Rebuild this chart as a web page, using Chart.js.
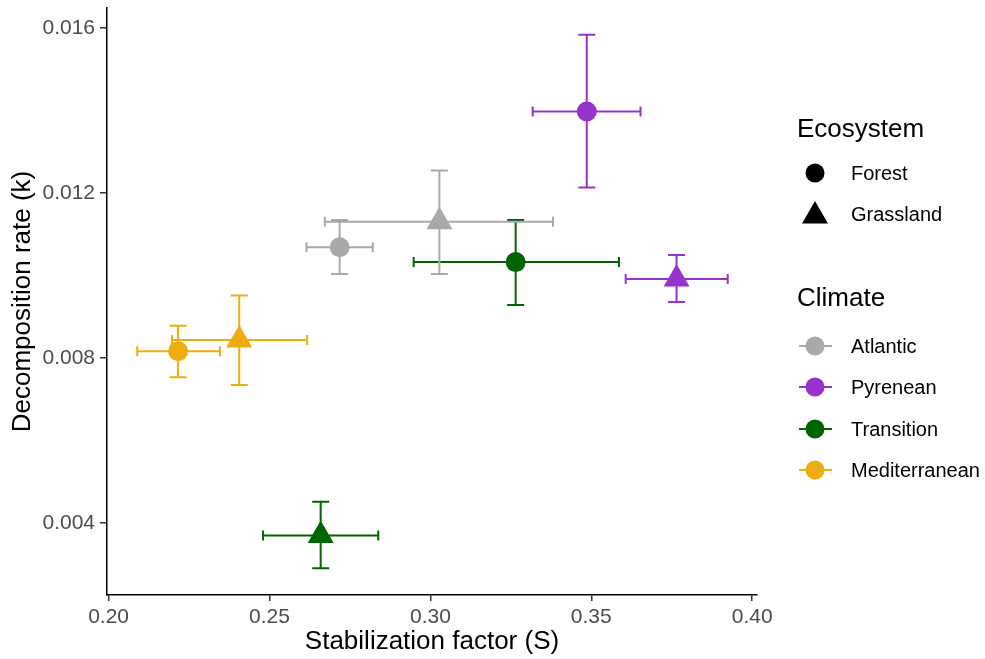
<!DOCTYPE html>
<html>
<head>
<meta charset="utf-8">
<script src="https://cdn.jsdelivr.net/npm/chart.js@4.4.1/dist/chart.umd.min.js"></script>
<style>
html, body { margin: 0; padding: 0; background: #fff; }
</style>
</head>
<body>
<canvas id="chart" width="985" height="659"></canvas>
<script>
// groups
const climates = ['Atlantic', 'Pyrenean', 'Transition', 'Mediterranean'];
const climateColors = ['#A9A9A9', '#9932CC', '#006400', '#EEAD0E'];
const ecosystems = ['Forest', 'Grassland'];

// Forest (one value per climate)
const forestS = [0.2718, 0.3486, 0.3265, 0.2216];
const forestK = [0.01069, 0.01398, 0.01033, 0.00817];
const forestSLow = [0.2615, 0.3318, 0.2948, 0.2089];
const forestSHigh = [0.2821, 0.3653, 0.3586, 0.2346];
const forestKLow = [0.01004, 0.01214, 0.00929, 0.00754];
const forestKHigh = [0.01135, 0.01584, 0.01135, 0.00879];

// Grassland
const grassS = [0.3028, 0.3765, 0.2659, 0.2406];
const grassK = [0.01131, 0.00992, 0.00370, 0.00844];
const grassSLow = [0.2672, 0.3607, 0.2480, 0.2197];
const grassSHigh = [0.3381, 0.3924, 0.2838, 0.2617];
const grassKLow = [0.01004, 0.00936, 0.00291, 0.00735];
const grassKHigh = [0.01255, 0.01050, 0.00452, 0.00952];

// axis ticks
const xTicks = [0.20, 0.25, 0.30, 0.35, 0.40];
const xTickLabels = ['0.20', '0.25', '0.30', '0.35', '0.40'];
const yTicks = [0.004, 0.008, 0.012, 0.016];
const yTickLabels = ['0.004', '0.008', '0.012', '0.016'];

const FONT = "'Liberation Sans', Arial, sans-serif";

function buildPoints(xs, ys) {
    return xs.map((v, i) => ({ x: v, y: ys[i] }));
}

function buildErrors(xl, xh, yl, yh) {
    return xl.map((v, i) => ({ xMin: v, xMax: xh[i], yMin: yl[i], yMax: yh[i] }));
}

// error bars drawn from the scales, under the points
const errorBars = {
    id: 'errorBars',
    beforeDatasetsDraw(chart) {
        const { ctx, scales: { x, y } } = chart;
        chart.data.datasets.forEach(ds => {
            ds.errors.forEach((e, i) => {
                const px = x.getPixelForValue(ds.data[i].x);
                const py = y.getPixelForValue(ds.data[i].y);
                const x0 = x.getPixelForValue(e.xMin), x1 = x.getPixelForValue(e.xMax);
                const y0 = y.getPixelForValue(e.yMin), y1 = y.getPixelForValue(e.yMax);
                ctx.save();
                ctx.strokeStyle = climateColors[i];
                ctx.lineWidth = 2;
                ctx.beginPath();
                // horizontal bar + caps
                ctx.moveTo(x0, py); ctx.lineTo(x1, py);
                ctx.moveTo(x0, py - 5); ctx.lineTo(x0, py + 5);
                ctx.moveTo(x1, py - 5); ctx.lineTo(x1, py + 5);
                // vertical bar + caps
                ctx.moveTo(px, y0); ctx.lineTo(px, y1);
                ctx.moveTo(px - 8.5, y0); ctx.lineTo(px + 8.5, y0);
                ctx.moveTo(px - 8.5, y1); ctx.lineTo(px + 8.5, y1);
                ctx.stroke();
                ctx.restore();
            });
        });
    }
};

function drawCircle(ctx, x, y, r, color) {
    ctx.fillStyle = color;
    ctx.beginPath();
    ctx.arc(x, y, r, 0, Math.PI * 2);
    ctx.fill();
}

function drawTriangle(ctx, x, y, r, color) {
    ctx.fillStyle = color;
    ctx.beginPath();
    ctx.moveTo(x, y - r);
    ctx.lineTo(x + r * Math.sin(Math.PI / 3), y + r / 2);
    ctx.lineTo(x - r * Math.sin(Math.PI / 3), y + r / 2);
    ctx.closePath();
    ctx.fill();
}

// two-part legend on the right (ggplot style)
const sideLegend = {
    id: 'sideLegend',
    afterDraw(chart) {
        const ctx = chart.ctx;
        ctx.save();
        ctx.textBaseline = 'middle';
        ctx.textAlign = 'left';

        ctx.fillStyle = '#000';
        ctx.font = '26px ' + FONT;
        ctx.fillText('Ecosystem', 797, 130);

        ctx.font = '20px ' + FONT;
        drawCircle(ctx, 815, 173, 9.5, '#000');
        ctx.fillStyle = '#000';
        ctx.fillText(ecosystems[0], 851, 174);
        drawTriangle(ctx, 815, 216, 15, '#000');
        ctx.fillStyle = '#000';
        ctx.fillText(ecosystems[1], 851, 215);

        ctx.font = '26px ' + FONT;
        ctx.fillText('Climate', 797, 299);

        ctx.font = '20px ' + FONT;
        const rows = [346, 387, 429, 470];
        climates.forEach((c, i) => {
            const ry = rows[i];
            ctx.strokeStyle = climateColors[i];
            ctx.lineWidth = 2;
            ctx.beginPath();
            ctx.moveTo(799, ry); ctx.lineTo(832, ry);
            ctx.stroke();
            drawCircle(ctx, 815, ry, 9.5, climateColors[i]);
            ctx.fillStyle = '#000';
            ctx.fillText(c, 851, ry + 1);
        });
        ctx.restore();
    }
};

const ctx = document.getElementById('chart').getContext('2d');
new Chart(ctx, {
    type: 'scatter',
    data: {
        datasets: [
            {
                label: ecosystems[0],
                data: buildPoints(forestS, forestK),
                errors: buildErrors(forestSLow, forestSHigh, forestKLow, forestKHigh),
                pointStyle: 'circle',
                pointRadius: 10,
                pointHoverRadius: 10,
                backgroundColor: climateColors,
                borderWidth: 0
            },
            {
                label: ecosystems[1],
                data: buildPoints(grassS, grassK),
                errors: buildErrors(grassSLow, grassSHigh, grassKLow, grassKHigh),
                pointStyle: 'triangle',
                pointRadius: 15,
                pointHoverRadius: 15,
                backgroundColor: climateColors,
                borderWidth: 0
            }
        ]
    },
    options: {
        responsive: false,
        animation: false,
        layout: { autoPadding: false, padding: { left: 0, right: 228, top: 8, bottom: 0 } },
        plugins: {
            legend: { display: false },
            tooltip: { enabled: false }
        },
        scales: {
            x: {
                type: 'linear',
                min: 0.1995,
                max: 0.4015,
                afterBuildTicks: s => { s.ticks = xTicks.map(v => ({ value: v })); },
                afterFit: s => { s.height = 64; },
                ticks: {
                    color: '#4D4D4D',
                    font: { family: FONT, size: 21 },
                    padding: 4,
                    callback: (v) => xTickLabels[xTicks.findIndex(t => Math.abs(t - v) < 1e-9)]
                },
                grid: { drawOnChartArea: false, drawTicks: true, tickLength: 6, color: '#333', lineWidth: 1.5 },
                border: { display: true, color: '#000', width: 1.5 },
                title: {
                    display: true,
                    text: 'Stabilization factor (S)',
                    color: '#000',
                    font: { family: FONT, size: 26, lineHeight: 1.2 },
                    padding: { top: 0, bottom: 2 }
                }
            },
            y: {
                type: 'linear',
                min: 0.00226,
                max: 0.01649,
                afterBuildTicks: s => { s.ticks = yTicks.map(v => ({ value: v })); },
                afterFit: s => { s.width = 107; },
                ticks: {
                    color: '#4D4D4D',
                    // tiny line height so the top label does not push the plot area down
                    font: { family: FONT, size: 21, lineHeight: 0.2 },
                    padding: 5,
                    callback: (v) => yTickLabels[yTicks.findIndex(t => Math.abs(t - v) < 1e-9)]
                },
                grid: { drawOnChartArea: false, drawTicks: true, tickLength: 7, color: '#333', lineWidth: 1.5 },
                border: { display: true, color: '#000', width: 1.5 },
                title: {
                    display: true,
                    text: 'Decomposition rate (k)',
                    color: '#000',
                    font: { family: FONT, size: 26, lineHeight: 1.2 },
                    padding: { top: 7, bottom: 0 }
                }
            }
        }
    },
    plugins: [errorBars, sideLegend]
});
</script>
</body>
</html>
